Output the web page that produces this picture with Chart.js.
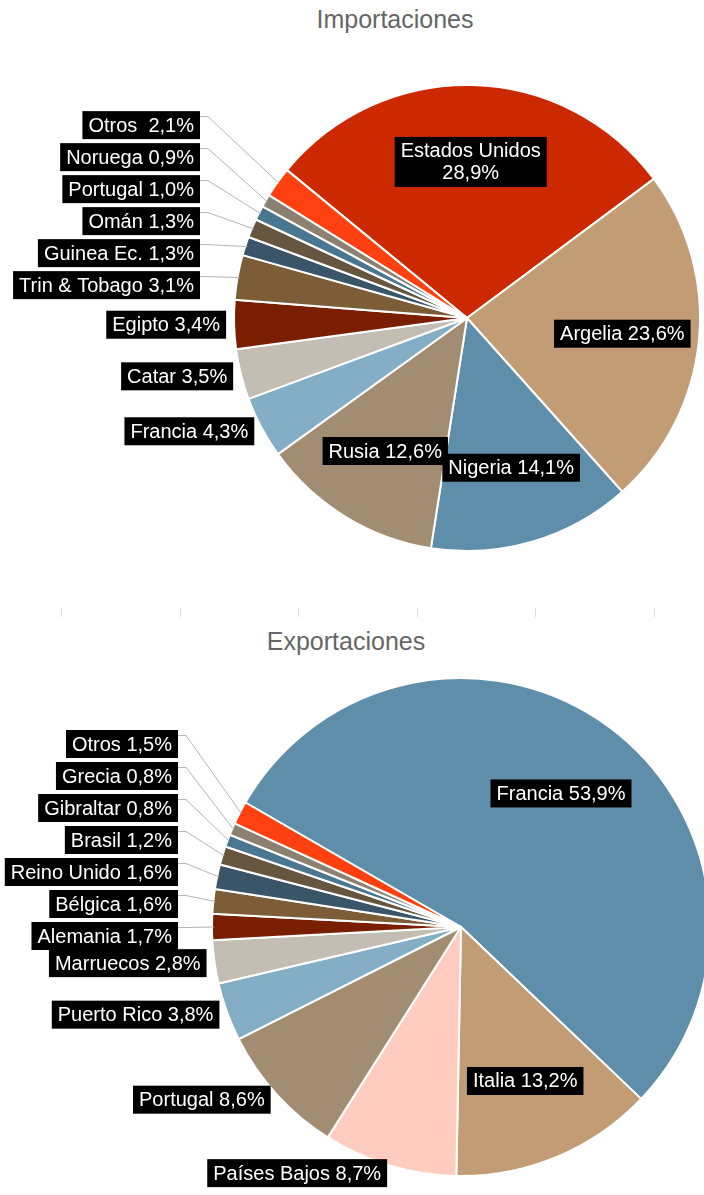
<!DOCTYPE html>
<html lang="es">
<head>
<meta charset="utf-8">
<title>Importaciones y exportaciones</title>
<script src="https://cdn.jsdelivr.net/npm/chart.js@4.4.1/dist/chart.umd.min.js"></script>
<style>
  html, body { margin: 0; padding: 0; background: #fff; overflow: hidden; }
  body { width: 704px; height: 1195px; position: relative; font-family: "Liberation Sans", Arial, sans-serif; }
  .title { position: absolute; width: 300px; text-align: center; font-size: 25px; line-height: 30px; color: #666; }
  .wrap { position: absolute; left: 0; }
  .tick { position: absolute; top: 608px; width: 1px; height: 9px; background: #ddd; }
</style>
</head>
<body>
<div class="title" style="left:245px;top:4px">Importaciones</div>
<div class="wrap" style="top:0"><canvas id="chart-imp" width="720" height="600"></canvas></div>
<div id="ticks"></div>
<div class="title" style="left:196px;top:626px">Exportaciones</div>
<div class="wrap" style="top:620px"><canvas id="chart-exp" width="720" height="575"></canvas></div>
<script>
// Importaciones (orden horario desde Estados Unidos)
const impLabels = ["Estados Unidos", "Argelia", "Nigeria", "Rusia", "Francia", "Catar", "Egipto",
  "Trin & Tobago", "Guinea Ec.", "Omán", "Portugal", "Noruega", "Otros "];
const impValues = [28.9, 23.6, 14.1, 12.6, 4.3, 3.5, 3.4, 3.1, 1.3, 1.3, 1.0, 0.9, 2.1];
const impColors = ["#cc2900", "#c19c74", "#5f8eaa", "#a38d72", "#84aec6", "#c4bdb4", "#7a1e00",
  "#7d5c38", "#3a5568", "#665640", "#4a768f", "#8c8070", "#ff4010"];

// Exportaciones (orden horario desde Francia)
const expLabels = ["Francia", "Italia", "Países Bajos", "Portugal", "Puerto Rico", "Marruecos", "Alemania",
  "Bélgica", "Reino Unido", "Brasil", "Gibraltar", "Grecia", "Otros"];
const expValues = [53.9, 13.2, 8.7, 8.6, 3.8, 2.8, 1.7, 1.6, 1.6, 1.2, 0.8, 0.8, 1.5];
const expColors = ["#5f8eaa", "#c19c74", "#ffccbf", "#a38d72", "#84aec6", "#c4bdb4", "#7a1e00",
  "#7d5c38", "#3a5568", "#665640", "#4a768f", "#8c8070", "#ff4010"];

const fmt = (v) => v.toFixed(1).replace(".", ",") + "%";

// etiquetas en caja negra: dentro si >= 10 %, fuera a la izquierda con guía si no
const pieLabels = {
  id: "pieLabels",
  afterDatasetsDraw(chart) {
    const ctx = chart.ctx;
    const arcs = chart.getDatasetMeta(0).data;
    const values = chart.data.datasets[0].data;
    const names = chart.data.labels;
    const total = values.reduce((a, b) => a + b, 0);
    const lineH = 22, boxH = 28, padX = 6, gap = 32;

    ctx.save();
    ctx.font = '20px "Liberation Sans", Arial, sans-serif';
    ctx.textBaseline = "middle";
    ctx.textAlign = "center";

    const size = (lines) => ({
      w: Math.max(...lines.map((l) => ctx.measureText(l).width)) + padX * 2,
      h: boxH + (lines.length - 1) * lineH,
    });
    const drawBox = (lines, left, top) => {
      const s = size(lines);
      ctx.fillStyle = "#000";
      ctx.fillRect(left, top, s.w, s.h);
      ctx.fillStyle = "#fff";
      lines.forEach((l, k) => ctx.fillText(l, left + s.w / 2, top + boxH / 2 + 1 + k * lineH));
    };

    const column = [];
    arcs.forEach((arc, i) => {
      const p = arc.getProps(["x", "y", "startAngle", "endAngle", "outerRadius"], true);
      const mid = (p.startAngle + p.endAngle) / 2;
      const cos = Math.cos(mid), sin = Math.sin(mid);
      const R = p.outerRadius;
      const text = names[i] + " " + fmt(values[i]);

      if (values[i] / total >= 0.1) {
        let lines = [text];
        if (ctx.measureText(text).width > 160) lines = [names[i], fmt(values[i])];
        const s = size(lines);
        const x = p.x + cos * R * 0.67, y = p.y + sin * R * 0.67;
        drawBox(lines, x - s.w / 2, y - s.h / 2);
        return;
      }

      let deg = (mid * 180 / Math.PI) % 360;
      if (deg < 0) deg += 360;
      if (deg > 180 && deg < 270) {
        column.push({ text, cx: p.x, cy: p.y, R, cos, sin, y: p.y + sin * (R + 6) });
      } else {
        const s = size([text]);
        const ax = p.x + cos * (R + 8), ay = p.y + sin * (R + 8);
        drawBox([text], cos < 0 ? ax - s.w : ax, ay - s.h / 2);
      }
    });

    // apilar de abajo hacia arriba
    column.sort((a, b) => b.y - a.y);
    let prev = Infinity;
    column.forEach((c) => {
      c.y = Math.min(c.y, prev - gap);
      prev = c.y;
      const right = c.cx - c.R - 34;
      const s = size([c.text]);
      ctx.strokeStyle = "#b4b4b4";
      ctx.lineWidth = 1;
      ctx.beginPath();
      ctx.moveTo(right, c.y + 0.5);
      ctx.lineTo(right + 8, c.y + 0.5);
      ctx.lineTo(c.cx + c.cos * (c.R - 2), c.cy + c.sin * (c.R - 2));
      ctx.stroke();
      drawBox([c.text], right - s.w, c.y - 5);
    });
    ctx.restore();
  },
};

function makePie(id, labels, values, colors, rotation, padding) {
  return new Chart(document.getElementById(id), {
    type: "pie",
    data: {
      labels: labels,
      datasets: [{ data: values, backgroundColor: colors, borderColor: "#fff", borderWidth: 2 }],
    },
    options: {
      responsive: false,
      animation: false,
      rotation: rotation,
      layout: { padding: padding },
      plugins: { legend: { display: false }, tooltip: { enabled: false } },
    },
    plugins: [pieLabels],
  });
}

makePie("chart-imp", impLabels, impValues, impColors, -50.6, { left: 233, top: 84, right: 19, bottom: 48 });
makePie("chart-exp", expLabels, expValues, expColors, -60, { left: 211, top: 57, right: 9, bottom: 18 });

const ticks = document.getElementById("ticks");
for (let i = 0; i < 6; i++) {
  const t = document.createElement("div");
  t.className = "tick";
  t.style.left = (61 + i * 118.5) + "px";
  ticks.appendChild(t);
}
</script>
</body>
</html>
